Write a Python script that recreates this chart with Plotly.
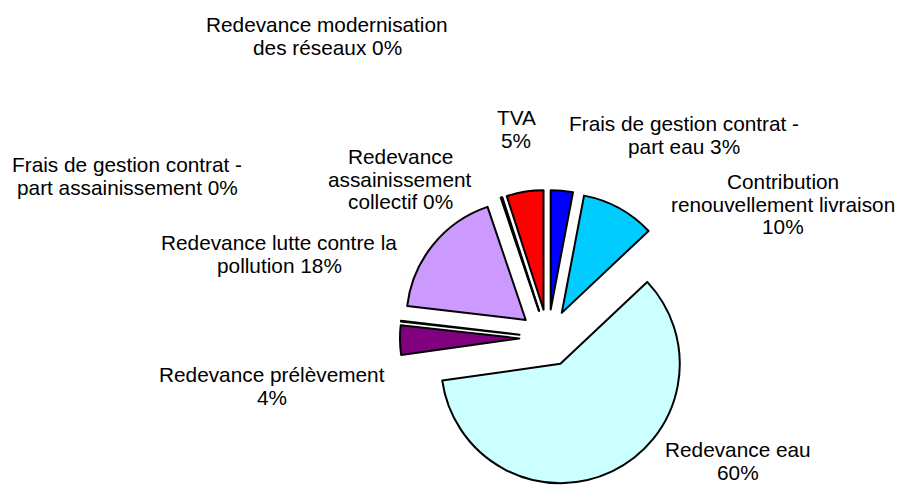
import plotly.graph_objects as go

# ---- data ----
labels = [
    "Frais de gestion contrat - part eau",
    "Contribution renouvellement livraison",
    "Redevance eau",
    "Redevance prélèvement",
    "Frais de gestion contrat - part assainissement",
    "Redevance lutte contre la pollution",
    "Redevance assainissement collectif",
    "Redevance modernisation des réseaux",
    "TVA",
]
values = [3, 10, 60, 4, 0.1, 18, 0.1, 0.1, 5]
colors = ["#0000FF", "#00CCFF", "#CCFFFF", "#800080", "#FFFFFF",
          "#CC99FF", "#FFFFFF", "#FFFFFF", "#FF0000"]

# label line breaks (text), percent appended to last line
label_lines = [
    ["Frais de gestion contrat -", "part eau"],
    ["Contribution", "renouvellement livraison", ""],
    ["Redevance eau", ""],
    ["Redevance prélèvement", ""],
    ["Frais de gestion contrat -", "part assainissement"],
    ["Redevance lutte contre la", "pollution"],
    ["Redevance", "assainissement", "collectif"],
    ["Redevance modernisation", "des réseaux"],
    ["TVA", ""],
]
# label placement (pixel centre x, first baseline y)
label_pos = [
    (684, 130.5), (783, 188.5), (737.5, 456.5), (272, 382), (127, 172),
    (279, 249.5), (400, 163.5), (327, 32), (516, 124.5),
]

W, H = 897, 486
FS = 20.8
LS = 22.8

total = sum(values)
pcts = [round(v / total * 100) for v in values]

fig = go.Figure(go.Pie(
    labels=labels,
    values=values,
    sort=False,
    direction="clockwise",
    rotation=0,
    pull=[0.24] * len(values),
    marker=dict(colors=colors, line=dict(color="black", width=2)),
    textinfo="none",
    hoverinfo="label+percent",
    showlegend=False,
    domain=dict(x=[400 / W, 696 / W], y=[0, 296 / H]),
))

annotations = []
for lines, pct, (cx, by) in zip(label_lines, pcts, label_pos):
    ls = list(lines)
    ls[-1] = (ls[-1] + " " if ls[-1] else "") + f"{pct}%"
    for k, t in enumerate(ls):
        base = by + k * LS
        annotations.append(dict(
            text=t, x=cx / W, y=1 - (base - 0.3465 * FS) / H,
            xref="paper", yref="paper", xanchor="center", yanchor="middle",
            showarrow=False,
            font=dict(family="Liberation Sans, Arial, sans-serif", size=FS, color="black"),
        ))

fig.update_layout(
    width=W, height=H,
    margin=dict(l=0, r=0, t=0, b=0),
    paper_bgcolor="white",
    plot_bgcolor="white",
    annotations=annotations,
)

fig.write_html(
    "out.html",
    config={"displayModeBar": False},
    post_script="document.body.style.margin='0px';document.body.style.overflow='hidden';",
)
